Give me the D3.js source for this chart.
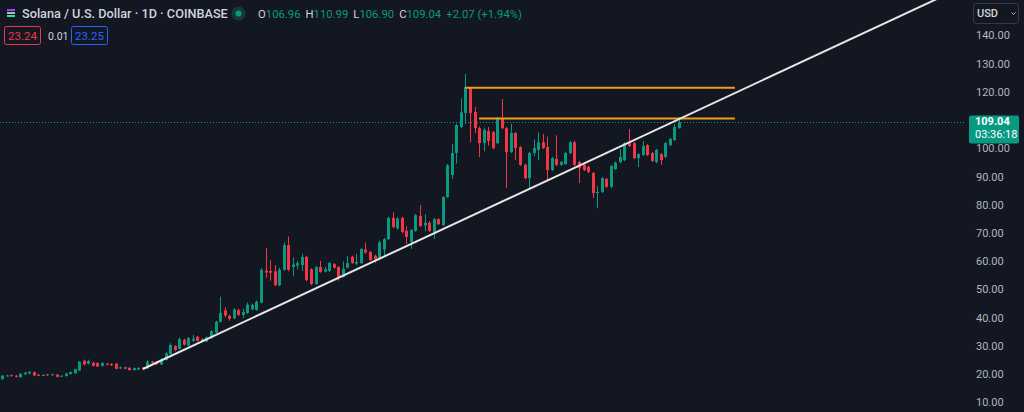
<!DOCTYPE html>
<html><head><meta charset="utf-8">
<script src="https://cdn.jsdelivr.net/npm/d3@7"></script>
<style>
html,body{margin:0;padding:0;background:#131722;overflow:hidden}
svg{display:block}
text{font-family:Roboto,"Noto Sans",sans-serif}
</style></head>
<body>
<svg id="chart" width="1024" height="412"></svg>
<script>
// ---- data (daily SOL/USD) ----
const opens = [18.1,19.1,19.5,19.3,18.8,19.8,20.1,20.6,19.7,19.4,
19.8,19.5,19.7,19.0,19.2,19.9,20.2,21.2,24.6,23.5,
23.9,23.8,22.8,23.6,23.5,23.6,21.9,22.3,22.1,21.3,
21.5,22.2,21.9,24.3,24.2,23.3,24.9,27.0,29.8,28.8,
32.0,30.0,31.7,33.1,32.3,31.4,32.6,34.5,38.4,42.5,
40.5,39.6,42.5,40.8,41.5,42.8,42.6,45.2,56.5,56.4,
56.3,51.4,56.8,65.6,57.8,58.3,58.5,61.4,57.0,51.8,
57.8,56.2,56.4,58.8,57.8,54.3,57.6,61.4,59.0,59.2,
64.0,63.1,61.8,60.7,64.0,67.7,75.2,71.5,75.2,70.6,
66.7,70.6,75.9,72.5,73.5,70.2,74.8,72.7,82.6,90.4,
98.2,107.4,112.4,121.2,112.7,107.0,101.7,106.0,105.6,101.7,
110.6,107.0,98.5,105.3,100.3,94.0,89.3,98.2,99.3,102.0,
100.3,92.2,96.1,94.0,94.3,98.2,102.0,95.0,94.0,93.3,
91.1,84.0,84.4,89.0,86.2,92.5,95.0,95.7,101.7,101.7,
96.4,97.5,101.0,98.2,95.0,97.8,96.8,101.0,102.8,106.96];
const closes = [19.3,19.4,19.2,18.9,20.0,20.4,20.7,19.4,19.3,19.6,
19.5,19.8,18.9,19.3,20.1,20.6,21.6,24.2,23.3,24.5,
22.8,22.6,23.8,23.2,23.0,21.8,22.3,21.8,21.3,22.0,
22.0,21.6,24.3,23.9,23.3,25.0,27.2,30.2,28.4,32.3,
30.3,32.6,32.4,31.7,31.7,32.9,35.1,38.4,41.6,40.6,
39.5,42.8,40.8,41.9,44.5,44.4,45.5,56.8,55.9,55.8,
51.4,56.9,65.6,56.8,58.7,59.2,61.4,53.2,51.8,57.8,
56.0,57.0,59.2,57.6,54.3,57.2,59.2,59.2,59.6,64.2,
63.0,60.3,60.6,66.5,67.7,75.2,72.0,75.0,70.2,68.5,
70.9,76.2,72.3,73.5,70.6,74.8,73.0,82.6,93.9,98.2,
108.1,112.6,121.6,112.4,107.0,101.7,106.4,102.5,100.0,110.6,
107.0,98.5,105.3,100.0,94.0,89.3,98.2,100.0,102.0,100.0,
92.2,96.4,94.0,95.0,98.2,102.0,94.0,92.8,92.2,91.5,
84.0,84.4,89.3,86.2,93.6,94.8,96.8,101.7,100.7,96.4,
97.8,100.7,97.5,95.4,99.3,95.7,101.7,103.2,107.4,109.04];
const highs = [19.6,19.6,19.7,19.5,20.2,20.7,20.9,20.8,19.9,19.8,
20.0,20.1,19.9,19.5,20.3,20.8,21.8,24.5,25.0,25.0,
24.2,24.0,24.1,23.8,23.7,23.8,22.5,22.5,22.3,22.2,
22.3,22.4,24.8,24.6,24.5,25.4,27.6,30.8,30.1,32.8,
32.4,33.0,33.8,33.4,32.6,33.2,35.4,38.8,47.3,43.5,
41.0,43.2,43.0,43.0,45.2,44.8,46.0,57.3,64.5,60.2,
58.5,57.5,66.5,68.6,61.2,60.0,62.5,61.8,57.4,58.2,
60.0,57.8,59.6,59.2,58.2,59.8,61.7,61.8,62.5,64.6,
66.5,63.5,62.2,67.2,68.2,75.6,77.2,75.5,75.6,72.2,
71.3,76.6,79.8,76.5,74.0,75.2,75.1,83.0,94.3,101.5,
108.5,117.6,126.2,121.6,114.5,107.5,107.2,107.5,106.0,111.0,
117.3,107.4,108.5,105.6,100.7,94.4,98.6,103.0,105.5,105.0,
104.0,96.8,104.5,95.4,98.6,102.4,102.5,95.4,94.4,93.7,
91.5,86.5,89.7,89.4,94.0,95.2,99.5,102.1,106.7,102.1,
98.2,102.4,101.4,98.6,99.7,98.2,102.1,103.6,108.4,110.99];
const lows = [17.9,19.0,19.0,18.7,18.6,19.6,19.9,19.2,19.1,19.2,
19.3,19.4,18.7,18.8,19.0,19.7,20.0,21.0,23.0,23.3,
22.6,22.4,22.6,23.0,22.8,21.6,21.7,21.6,21.1,21.1,
21.3,21.4,21.7,23.7,23.1,23.1,24.7,26.8,28.0,28.6,
30.0,29.8,31.2,31.5,31.5,31.2,32.4,34.3,38.2,40.0,
38.8,39.4,40.5,39.8,41.2,42.5,42.3,45.0,54.0,53.0,
51.0,51.0,56.5,56.3,54.5,57.0,56.4,52.8,51.4,51.5,
55.8,55.9,56.0,57.2,53.0,54.0,57.3,59.0,58.5,58.9,
62.5,60.0,59.3,60.3,61.5,67.4,71.5,71.0,69.8,66.0,
64.2,70.3,72.0,70.5,70.2,67.8,72.7,72.3,82.3,89.0,
94.5,107.0,108.5,102.0,105.2,96.8,98.8,100.8,99.5,101.3,
106.6,85.8,98.2,95.7,93.6,88.9,85.8,97.0,95.7,99.6,
88.5,91.8,93.6,93.6,94.0,97.8,93.6,87.5,91.8,91.1,
82.3,78.7,84.0,85.8,85.8,92.2,94.6,95.3,100.3,96.0,
93.2,97.2,97.1,95.0,94.6,94.0,96.4,100.6,102.4,106.90];

const priceTicks = [10,20,30,40,50,60,70,80,90,100,110,120,130,140];
// horizontal levels: [startIndex, endIndex, price]
const levelStarts = [102, 105];
const levelEnds = [161.3, 161.3];
const levelPrices = [121.3, 110.4];
// trend line: two [index, price] points
const trendFrom = [31, 21.7];
const trendTo = [207, 153.7];

const lastPrice = 109.04;
const countdown = "03:36:18";
const titleText = "Solana / U.S. Dollar · 1D · COINBASE";
const ohlcLabels = ["O","H","L","C"];
const ohlcValues = ["106.96","110.99","106.90","109.04"];
const changeText = "+2.07 (+1.94%)";
const spreadValues = ["23.24","0.01","23.25"];

// ---- setup ----
const W = 1024, H = 412, plotRight = 966;
const UP = "#089981", DOWN = "#f23645";
const svg = d3.select("#chart");
svg.append("rect").attr("width",W).attr("height",H).attr("fill","#131722");

const candles = opens.map((o,i)=>({i, o, h:highs[i], l:lows[i], c:closes[i]}));
const x = d3.scaleLinear().domain([0, candles.length-1]).range([2, 679]);
const y = d3.scaleLinear().domain([10,140]).range([402,35]);

svg.append("clipPath").attr("id","plot").append("rect")
  .attr("x",0).attr("y",0).attr("width",plotRight).attr("height",H);
const plot = svg.append("g").attr("clip-path","url(#plot)");

// last price dotted line
plot.append("line")
  .attr("x1",0).attr("x2",plotRight+4)
  .attr("y1",Math.round(y(lastPrice))+0.5).attr("y2",Math.round(y(lastPrice))+0.5)
  .attr("stroke",UP).attr("stroke-width",1).attr("stroke-dasharray","1,2");

// candles
const cg = plot.append("g");
cg.selectAll("line.wick").data(candles).join("line")
  .attr("class","wick")
  .attr("x1",d=>Math.round(x(d.i))+0.5).attr("x2",d=>Math.round(x(d.i))+0.5)
  .attr("y1",d=>y(d.h)).attr("y2",d=>y(d.l))
  .attr("stroke",d=>d.c>=d.o?UP:DOWN).attr("stroke-width",1);
cg.selectAll("rect.body").data(candles).join("rect")
  .attr("class","body")
  .attr("x",d=>Math.round(x(d.i))-1)
  .attr("width",3)
  .attr("y",d=>y(Math.max(d.o,d.c)))
  .attr("height",d=>Math.max(1, Math.abs(y(d.o)-y(d.c))))
  .attr("fill",d=>d.c>=d.o?UP:DOWN);

// orange levels
const levels = levelPrices.map((p,k)=>({p, s:levelStarts[k], e:levelEnds[k]}));
plot.selectAll("line.level").data(levels).join("line")
  .attr("class","level")
  .attr("x1",d=>x(d.s)).attr("x2",d=>x(d.e))
  .attr("y1",d=>y(d.p)).attr("y2",d=>y(d.p))
  .attr("stroke","#f59c1a").attr("stroke-width",2);

// trend line
plot.append("line")
  .attr("x1",x(trendFrom[0])).attr("y1",y(trendFrom[1]))
  .attr("x2",x(trendTo[0])).attr("y2",y(trendTo[1]))
  .attr("stroke","#e6e6e6").attr("stroke-width",2);

// price axis
const axis = d3.axisRight(y).tickValues(priceTicks).tickSize(0).tickPadding(0)
  .tickFormat(d3.format(".2f"));
const ag = svg.append("g").attr("transform","translate(976,0)").call(axis);
ag.select(".domain").remove();
ag.selectAll("text").attr("fill","#b2b5be").attr("font-size",11).attr("dy","0.35em");

// last price badge
const by = y(lastPrice);
svg.append("rect").attr("x",969).attr("y",by-7).attr("width",50).attr("height",28)
  .attr("rx",2).attr("fill",UP);
svg.append("text").attr("x",975).attr("y",by+3).attr("fill","#fff")
  .attr("font-size",11).attr("font-weight","bold").text(d3.format(".2f")(lastPrice));
svg.append("text").attr("x",975).attr("y",by+16).attr("fill","#fff")
  .attr("font-size",11).text(countdown);

// USD selector
svg.append("rect").attr("x",973.5).attr("y",3.5).attr("width",45).attr("height",20)
  .attr("rx",3).attr("fill","none").attr("stroke","#363a45");
svg.append("text").attr("x",977).attr("y",17).attr("fill","#d1d4dc")
  .attr("font-size",11).attr("font-weight","500").text("USD");
svg.append("path").attr("d","M1011.5,12.5 l2,2 l2,-2").attr("fill","none")
  .attr("stroke","#b2b5be").attr("stroke-width",1);

// header
const icon = svg.append("g").attr("transform","translate(7,9)");
[0,3,6].forEach((dy,k)=>icon.append("rect").attr("x",0).attr("y",dy).attr("width",8).attr("height",2)
  .attr("fill",["#9945ff","#b5b9c6","#14f195"][k]));
svg.append("text").attr("x",22).attr("y",18).attr("fill","#d1d4dc")
  .attr("font-size",12.7).attr("font-weight","500").text(titleText);
svg.append("circle").attr("cx",238.5).attr("cy",13.5).attr("r",7).attr("fill","#163a37");
svg.append("circle").attr("cx",238.5).attr("cy",13.5).attr("r",3).attr("fill",UP);
const ohlc = svg.append("text").attr("x",258).attr("y",17.5).attr("font-size",11.3);
ohlcLabels.forEach((lab,k)=>{
  ohlc.append("tspan").attr("fill","#d1d4dc").attr("dx",k?5:0).text(lab);
  ohlc.append("tspan").attr("fill",UP).text(ohlcValues[k]);
});
ohlc.append("tspan").attr("fill",UP).attr("dx",5).text(changeText);

// spread boxes
svg.append("rect").attr("x",4.5).attr("y",26.5).attr("width",36).attr("height",18)
  .attr("rx",2).attr("fill","none").attr("stroke",DOWN);
svg.append("text").attr("x",22.5).attr("y",40).attr("text-anchor","middle")
  .attr("fill",DOWN).attr("font-size",11.5).text(spreadValues[0]);
svg.append("text").attr("x",48).attr("y",40).attr("fill","#d1d4dc")
  .attr("font-size",10.5).text(spreadValues[1]);
svg.append("rect").attr("x",71.5).attr("y",26.5).attr("width",36).attr("height",18)
  .attr("rx",2).attr("fill","none").attr("stroke","#2962ff");
svg.append("text").attr("x",89.5).attr("y",40).attr("text-anchor","middle")
  .attr("fill","#2962ff").attr("font-size",11.5).text(spreadValues[2]);
</script>
</body></html>
